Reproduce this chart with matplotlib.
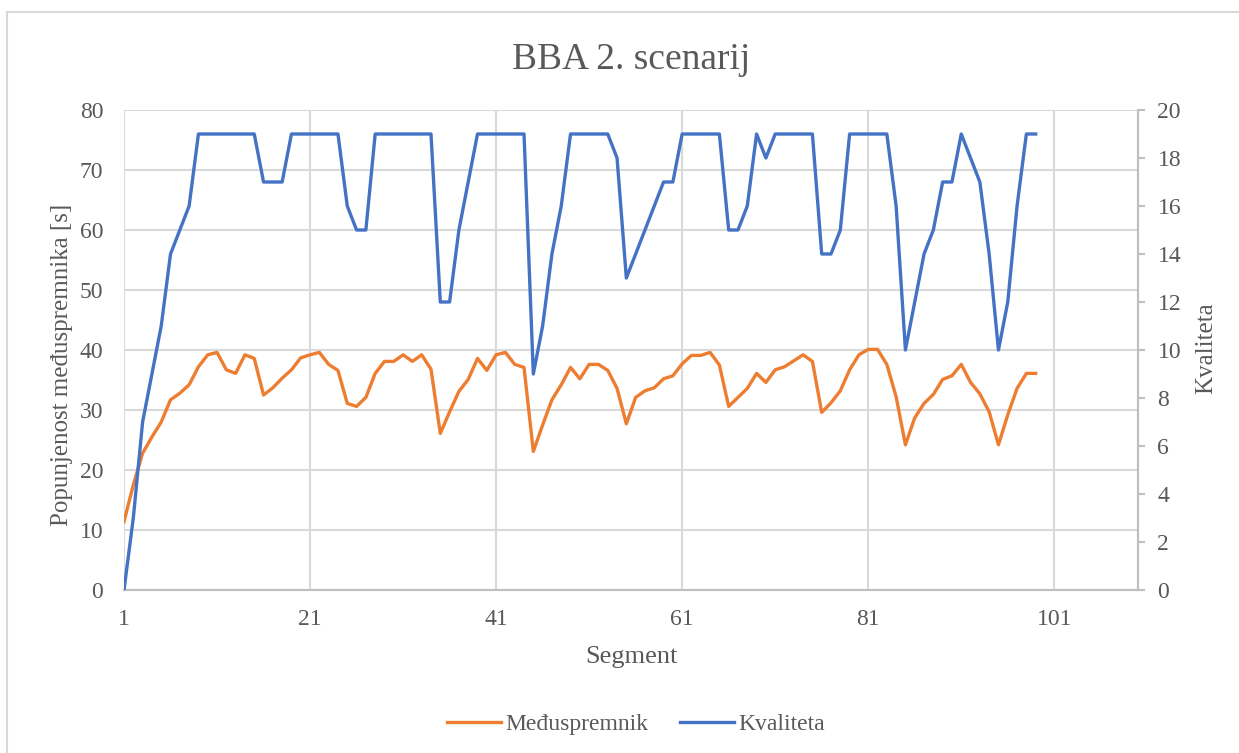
import matplotlib
matplotlib.use('Agg')
import matplotlib.pyplot as plt
from matplotlib.patches import Rectangle

# Data
segments = list(range(1, 100))
buffer_s = [11.4, 17.5, 22.8, 25.5, 28.0, 31.7, 32.8, 34.2, 37.2, 39.2,
            39.6, 36.7, 36.1, 39.2, 38.6, 32.5, 33.7, 35.3, 36.7, 38.7,
            39.2, 39.6, 37.6, 36.6, 31.1, 30.6, 32.1, 36.1, 38.1, 38.1,
            39.2, 38.1, 39.2, 36.8, 26.1, 29.7, 33.1, 35.1, 38.6, 36.6,
            39.2, 39.6, 37.6, 37.1, 23.1, 27.5, 31.7, 34.2, 37.1, 35.2,
            37.6, 37.6, 36.6, 33.6, 27.7, 32.1, 33.2, 33.7, 35.2, 35.7,
            37.7, 39.1, 39.1, 39.6, 37.5, 30.6, 32.1, 33.6, 36.1, 34.6,
            36.7, 37.2, 38.2, 39.2, 38.1, 29.6, 31.2, 33.2, 36.7, 39.2,
            40.1, 40.1, 37.6, 32.2, 24.2, 28.7, 31.1, 32.6, 35.1, 35.7,
            37.6, 34.6, 32.7, 29.7, 24.2, 29.2, 33.6, 36.1, 36.1]
quality = [0, 3, 7, 9, 11, 14, 15, 16, 19, 19,
           19, 19, 19, 19, 19, 17, 17, 17, 19, 19,
           19, 19, 19, 19, 16, 15, 15, 19, 19, 19,
           19, 19, 19, 19, 12, 12, 15, 17, 19, 19,
           19, 19, 19, 19, 9, 11, 14, 16, 19, 19,
           19, 19, 19, 18, 13, 14, 15, 16, 17, 17,
           19, 19, 19, 19, 19, 15, 15, 16, 19, 18,
           19, 19, 19, 19, 19, 14, 14, 15, 19, 19,
           19, 19, 19, 16, 10, 12, 14, 15, 17, 17,
           19, 18, 17, 14, 10, 12, 16, 19, 19]
x_ticks = [1, 21, 41, 61, 81, 101]

text_col = '#595959'
grid_col = '#D9D9D9'
axis_col = '#BFBFBF'
plt.rcParams['font.family'] = ['Liberation Serif', 'DejaVu Serif']

fig = plt.figure(figsize=(12.39, 7.53), dpi=100)
# light chart-area border (right and bottom edges fall outside the image)
fig.patches.append(Rectangle((7 / 1239, -0.1), 1.2, 1.1 - 12 / 753,
                             transform=fig.transFigure, fill=False,
                             edgecolor=grid_col, linewidth=1.5))

ax = fig.add_axes([124 / 1239, 1 - 590 / 753, (1138 - 124) / 1239, (590 - 110) / 753])
ax2 = ax.twinx()

ax.plot(segments, buffer_s, color='#ED7D31', linewidth=2.4, label='Međuspremnik',
        solid_joinstyle='round', zorder=3)
ax2.plot(segments, quality, color='#4472C4', linewidth=2.4, label='Kvaliteta',
         solid_joinstyle='round', zorder=3)

ax.set_xlim(1, 110)
ax.set_ylim(0, 80)
ax2.set_ylim(0, 20)
ax.set_xticks(x_ticks)
ax.set_yticks(range(0, 81, 10))
ax2.set_yticks(range(0, 21, 2))

ax.grid(True, color=grid_col, linewidth=1.5)
ax.set_axisbelow(True)

for a in (ax, ax2):
    for side in ('top', 'left'):
        a.spines[side].set_visible(False)
    a.spines['bottom'].set_color(axis_col)
    a.spines['bottom'].set_linewidth(1.5)
    a.spines['right'].set_color(axis_col)
    a.spines['right'].set_linewidth(1.5)

ax.tick_params(axis='y', length=0, labelsize=17, labelcolor=text_col, pad=15)
ax.tick_params(axis='x', length=0, labelsize=17, labelcolor=text_col, pad=14)
ax2.tick_params(axis='y', length=5, width=1.5, color=axis_col, labelsize=17,
                labelcolor=text_col, pad=9)

ax.set_xlabel('Segment', fontsize=19, color=text_col, va='center')
ax.xaxis.set_label_coords(0.5, (590 - 657) / 480)
ax.set_ylabel('Popunjenost međuspremnika [s]', fontsize=18, color=text_col, va='center')
ax.yaxis.set_label_coords((62 - 124) / 1014, (590 - 365) / 480)
ax2.set_ylabel('Kvaliteta', fontsize=18, color=text_col, va='center')
ax2.yaxis.set_label_coords((1206 - 124) / 1014, (590 - 348) / 480)

fig.text(631 / 1239, 1 - 60 / 753, 'BBA 2. scenarij', ha='center', va='center',
         fontsize=27, color=text_col)

handles = ax.get_lines() + ax2.get_lines()
fig.legend(handles, [h.get_label() for h in handles], loc='center',
           bbox_to_anchor=(636 / 1239, 1 - 724 / 753), ncol=2, frameon=False,
           fontsize=17, labelcolor=text_col, handlelength=2.3, handletextpad=0.2,
           columnspacing=1.3)

plt.savefig('out.png', dpi=100)
print("Saved out.png")
